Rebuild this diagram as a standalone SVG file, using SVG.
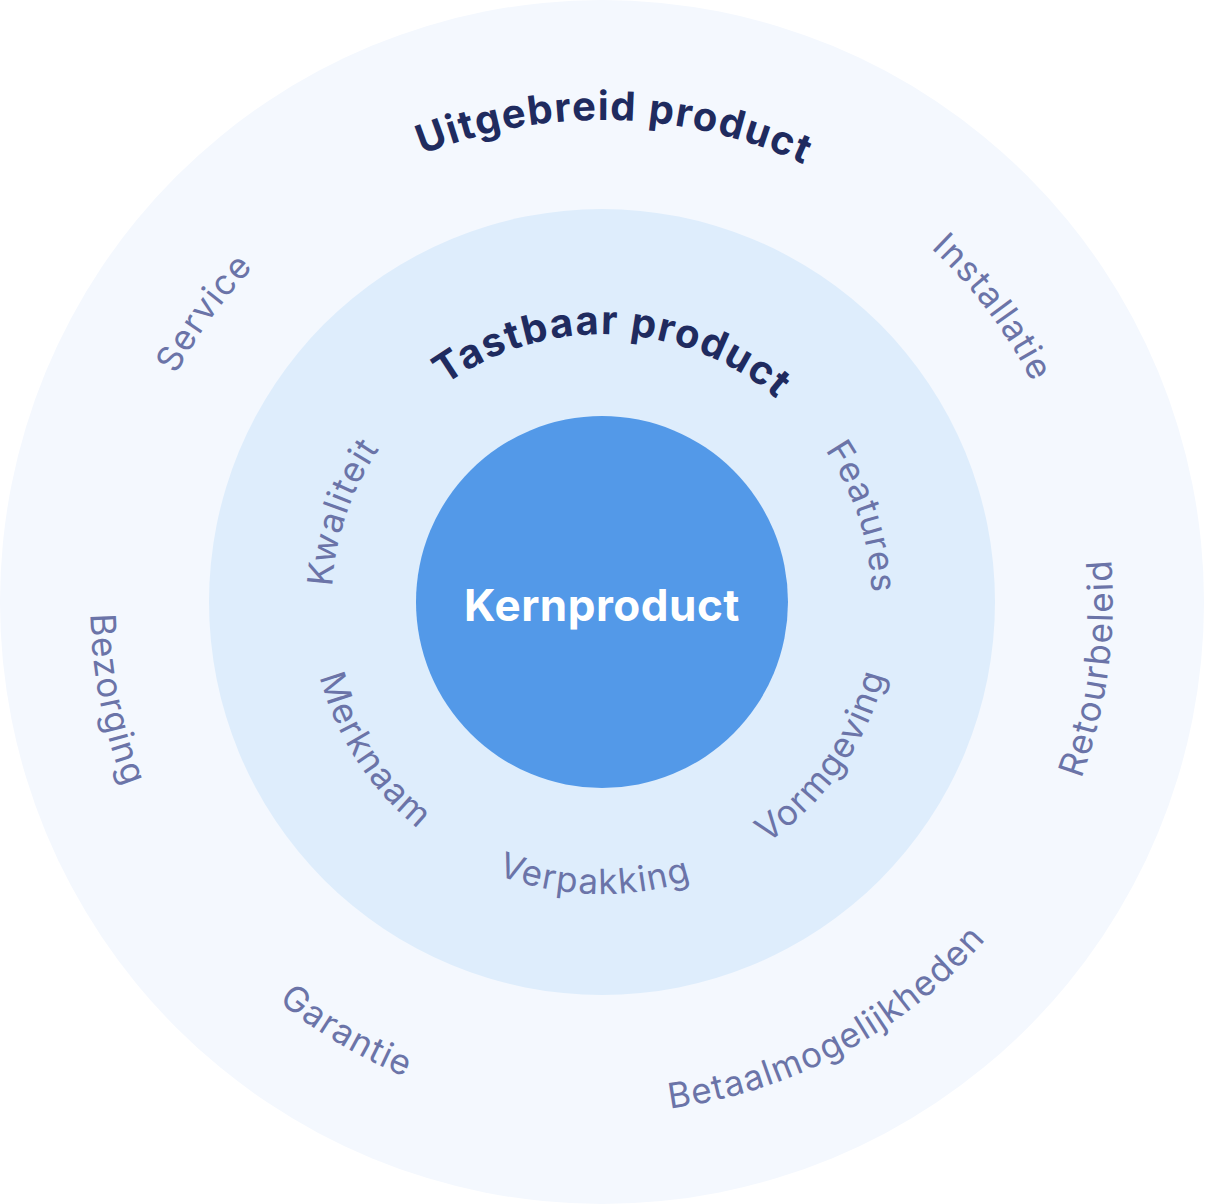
<svg xmlns="http://www.w3.org/2000/svg" xmlns:xlink="http://www.w3.org/1999/xlink" width="1205" height="1204" viewBox="0 0 1205 1204">
<style>
.title{font-family:Inter,"Liberation Sans",sans-serif;font-weight:700;fill:#1f2b5f;font-size:40px;letter-spacing:1.5px}
.lbl{font-family:Inter,"Liberation Sans",sans-serif;font-weight:400;fill:#6b74a8;font-size:35px;letter-spacing:1.2px}
.core{font-family:Inter,"Liberation Sans",sans-serif;font-weight:700;fill:#ffffff;font-size:44px;letter-spacing:0.5px}
</style>
<defs>
<path id="p-uit" d="M123.1,547.4 A482,482 0 0 1 1083.1,572.6"/>
<path id="p-tast" d="M336.3,567.0 A268,268 0 0 1 869.7,590.3"/>
<path id="p-kwal" d="M492.2,848.7 A270,270 0 0 1 667.3,340.0"/>
<path id="p-feat" d="M541.3,338.9 A270,270 0 0 1 707.5,850.5"/>
<path id="p-serv" d="M285.1,966.5 A483,483 0 0 1 850.8,188.0"/>
<path id="p-inst" d="M346.0,192.4 A483,483 0 0 1 925.2,960.9"/>
<path id="p-merk" d="M422.2,371.9 A292,292 0 0 0 739.1,859.8"/>
<path id="p-verp" d="M310.5,619.8 A292,292 0 0 0 892.1,635.1"/>
<path id="p-vorm" d="M456,854.9 A292,292 0 0 0 789.7,378.3"/>
<path id="p-ret" d="M577.9,1112.4 A511,511 0 0 0 714.3,103.5"/>
<path id="p-bez" d="M458.3,110.6 A512,512 0 0 0 658.2,1110.9"/>
<path id="p-gar" d="M138.8,379.1 A514,514 0 0 0 1019.4,901.9"/>
<path id="p-bet" d="M174.4,881.8 A511,511 0 0 0 1071.7,400.7"/>
</defs>
<g id="outer">
<circle cx="602" cy="602" r="602" fill="#f4f8fe"/>
<text class="title" text-anchor="middle"><textPath xlink:href="#p-uit" href="#p-uit" startOffset="50%">Uitgebreid product</textPath></text>
<text class="lbl" text-anchor="middle"><textPath href="#p-serv" xlink:href="#p-serv" startOffset="50%">Service</textPath></text>
<text class="lbl" text-anchor="middle"><textPath href="#p-inst" xlink:href="#p-inst" startOffset="50%">Installatie</textPath></text>
<text class="lbl" text-anchor="middle"><textPath href="#p-ret" xlink:href="#p-ret" startOffset="50%">Retourbeleid</textPath></text>
<text class="lbl" text-anchor="middle"><textPath href="#p-bez" xlink:href="#p-bez" startOffset="50%">Bezorging</textPath></text>
<text class="lbl" text-anchor="middle"><textPath href="#p-gar" xlink:href="#p-gar" startOffset="50%">Garantie</textPath></text>
<text class="lbl" text-anchor="middle"><textPath href="#p-bet" xlink:href="#p-bet" startOffset="50%">Betaalmogelijkheden</textPath></text>
</g>
<g id="middle">
<circle cx="602" cy="602" r="393" fill="#deedfc"/>
<text class="title" text-anchor="middle"><textPath href="#p-tast" xlink:href="#p-tast" startOffset="50%">Tastbaar product</textPath></text>
<text class="lbl" text-anchor="middle"><textPath href="#p-kwal" xlink:href="#p-kwal" startOffset="50%">Kwaliteit</textPath></text>
<text class="lbl" text-anchor="middle"><textPath href="#p-feat" xlink:href="#p-feat" startOffset="50%">Features</textPath></text>
<text class="lbl" text-anchor="middle"><textPath href="#p-merk" xlink:href="#p-merk" startOffset="50%">Merknaam</textPath></text>
<text class="lbl" text-anchor="middle"><textPath href="#p-verp" xlink:href="#p-verp" startOffset="50%">Verpakking</textPath></text>
<text class="lbl" text-anchor="middle"><textPath href="#p-vorm" xlink:href="#p-vorm" startOffset="50%">Vormgeving</textPath></text>
</g>
<g id="core">
<circle cx="602" cy="602" r="186" fill="#5399e8"/>
<text class="core" x="602" y="621" text-anchor="middle">Kernproduct</text>
</g>
<g id="connectors"/>
</svg>
